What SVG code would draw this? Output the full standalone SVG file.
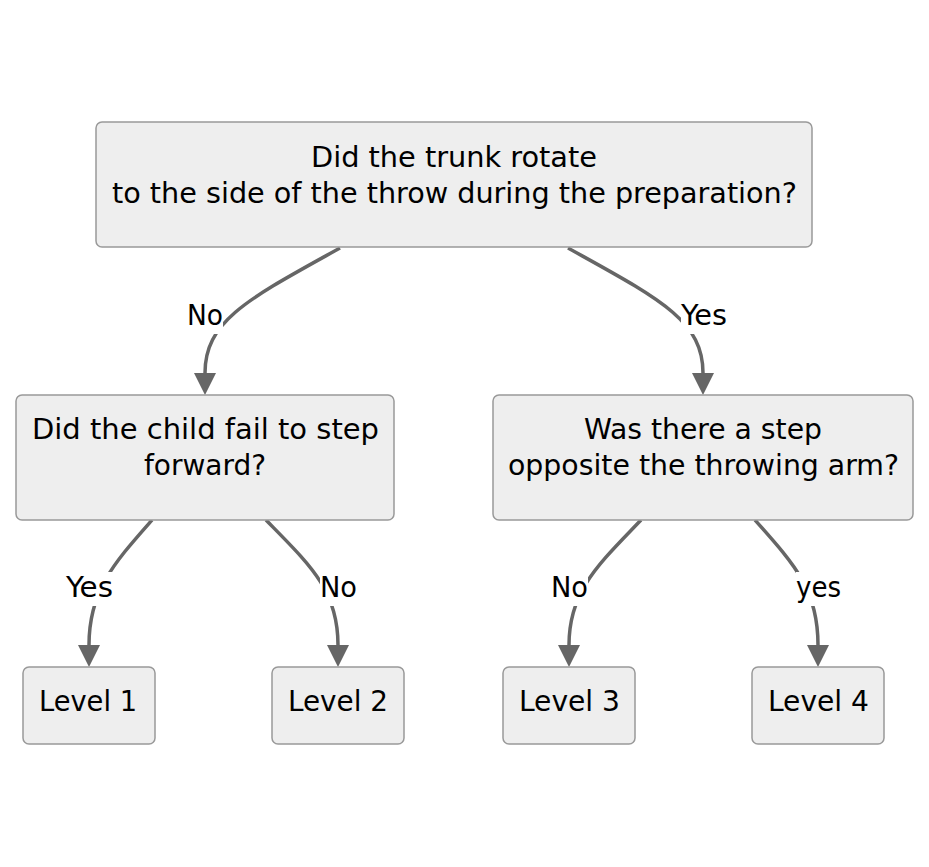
<svg xmlns="http://www.w3.org/2000/svg" width="929" height="867" viewBox="0 0 929 867">
<style>
.node rect{fill:#eeeeee;stroke:#999999;stroke-width:1.5}
text{font-family:"DejaVu Sans Condensed","DejaVu Sans",sans-serif;font-stretch:condensed;font-size:29px;fill:#000000;text-anchor:middle}
.edge{fill:none;stroke:#666666;stroke-width:3.5}
.lbl rect{fill:#ffffff}
</style>
<defs>
<marker id="arr" viewBox="0 0 22 22" refX="0" refY="11" markerWidth="22" markerHeight="22" markerUnits="userSpaceOnUse" orient="auto">
<path d="M0,0 L22,11 L0,22 z" fill="#666666"/>
</marker>
</defs>
<rect width="929" height="867" fill="#ffffff"/>
<g id="connectors">
<path class="edge" d="M340,248 C250,298 205,320 205,373" marker-end="url(#arr)"/>
<path class="edge" d="M568,248 C658,298 703,320 703,373" marker-end="url(#arr)"/>
<path class="edge" d="M152,520 C115,562 89,590 89,645" marker-end="url(#arr)"/>
<path class="edge" d="M266,520 C310,565 338,590 338,645" marker-end="url(#arr)"/>
<path class="edge" d="M641,520 C600,563 569,590 569,645" marker-end="url(#arr)"/>
<path class="edge" d="M755,520 C795,565 818,590 818,645" marker-end="url(#arr)"/>
<g class="lbl" id="lbl-no1"><rect x="187" y="300" width="36" height="34"/><text x="205" y="325" textLength="36" lengthAdjust="spacingAndGlyphs">No</text></g>
<g class="lbl" id="lbl-yes1"><rect x="681" y="300" width="46" height="34"/><text x="704" y="325" textLength="46" lengthAdjust="spacingAndGlyphs">Yes</text></g>
<g class="lbl" id="lbl-yes2"><rect x="66" y="572" width="47" height="34"/><text x="89.5" y="597" textLength="47" lengthAdjust="spacingAndGlyphs">Yes</text></g>
<g class="lbl" id="lbl-no2"><rect x="320" y="572" width="37" height="34"/><text x="338.5" y="597" textLength="37" lengthAdjust="spacingAndGlyphs">No</text></g>
<g class="lbl" id="lbl-no3"><rect x="551" y="572" width="37" height="34"/><text x="569.5" y="597" textLength="37" lengthAdjust="spacingAndGlyphs">No</text></g>
<g class="lbl" id="lbl-yes3"><rect x="796" y="572" width="45" height="34"/><text x="818.5" y="597" textLength="45" lengthAdjust="spacingAndGlyphs">yes</text></g>
</g>
<g id="n-trunk" class="node">
<rect x="96" y="122" width="716" height="125" rx="6"/>
<text x="454" y="167" textLength="286" lengthAdjust="spacingAndGlyphs">Did the trunk rotate</text>
<text x="454.5" y="203" textLength="685" lengthAdjust="spacingAndGlyphs">to the side of the throw during the preparation?</text>
</g>
<g id="n-step" class="node">
<rect x="16" y="395" width="378" height="125" rx="6"/>
<text x="205.5" y="439" textLength="347" lengthAdjust="spacingAndGlyphs">Did the child fail to step</text>
<text x="205" y="475" textLength="122" lengthAdjust="spacingAndGlyphs">forward?</text>
</g>
<g id="n-opp" class="node">
<rect x="493" y="395" width="420" height="125" rx="6"/>
<text x="703" y="439" textLength="238" lengthAdjust="spacingAndGlyphs">Was there a step</text>
<text x="703.5" y="475" textLength="391" lengthAdjust="spacingAndGlyphs">opposite the throwing arm?</text>
</g>
<g id="n-l1" class="node">
<rect x="23" y="667" width="132" height="77" rx="6"/>
<text x="88" y="711" textLength="98" lengthAdjust="spacingAndGlyphs">Level 1</text>
</g>
<g id="n-l2" class="node">
<rect x="272" y="667" width="132" height="77" rx="6"/>
<text x="338" y="711" textLength="100" lengthAdjust="spacingAndGlyphs">Level 2</text>
</g>
<g id="n-l3" class="node">
<rect x="503" y="667" width="132" height="77" rx="6"/>
<text x="569.5" y="711" textLength="101" lengthAdjust="spacingAndGlyphs">Level 3</text>
</g>
<g id="n-l4" class="node">
<rect x="752" y="667" width="132" height="77" rx="6"/>
<text x="818.5" y="711" textLength="101" lengthAdjust="spacingAndGlyphs">Level 4</text>
</g>
</svg>
